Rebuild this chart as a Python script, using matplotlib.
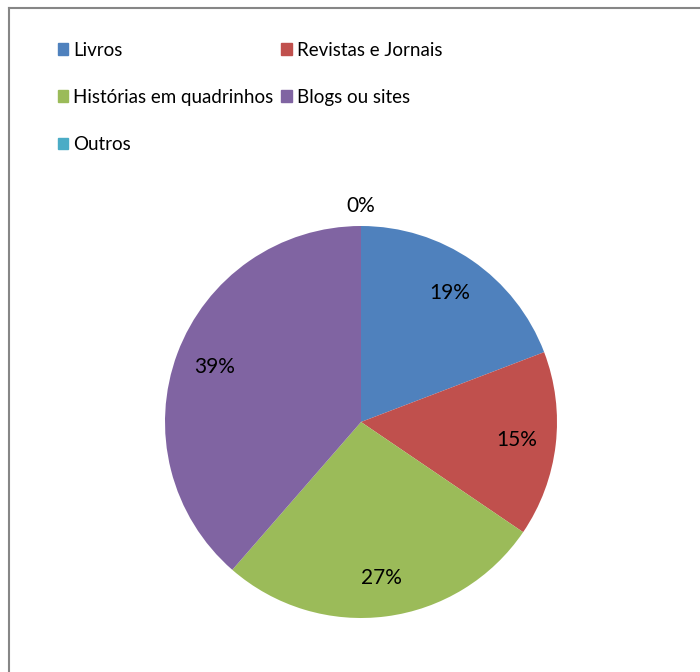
"""Pie chart of reading sources."""

import matplotlib.pyplot as plt
from matplotlib import patches
from matplotlib.lines import Line2D

plt.rcParams['font.family'] = ['Lato', 'DejaVu Sans']

labels = ['Livros', 'Revistas e Jornais', 'Histórias em quadrinhos',
          'Blogs ou sites', 'Outros']
values = [19.2, 15.3, 26.9, 38.6, 0]
colors = ['#4F81BD', '#C0504D', '#9BBB59', '#8064A2', '#4BACC6']

W, H = 700, 672
fig = plt.figure(figsize=(W / 100, H / 100), dpi=100)

# chart frame (only top and left edges visible)
frame_col = '#868686'
fig.add_artist(Line2D([9 / W, 9 / W], [0, 1 - 8 / H], transform=fig.transFigure,
                      color=frame_col, lw=1.5))
fig.add_artist(Line2D([9 / W, 1], [1 - 8 / H, 1 - 8 / H], transform=fig.transFigure,
                      color=frame_col, lw=1.5))

cx, cy, r = 361, 422, 196
ax = fig.add_axes([(cx - r) / W, (H - cy - r) / H, 2 * r / W, 2 * r / H])

wedges, texts, autotexts = ax.pie(values, colors=colors, startangle=90,
                                  counterclock=False, autopct='%1.0f%%',
                                  pctdistance=0.80,
                                  textprops={'fontsize': 15, 'color': 'black'})
for v, t in zip(values, autotexts):
    t.set_clip_on(False)
    if v == 0:
        x, y = t.get_position()
        t.set_position((x * 1.10 / 0.80, y * 1.10 / 0.80))
ax.set_xlim(-1, 1)
ax.set_ylim(-1, 1)
ax.set_aspect('equal')
ax.axis('off')

# legend filled row by row
order = [0, 2, 4, 1, 3]
handles = [patches.Patch(color=colors[i]) for i in order]
fig.legend(handles, [labels[i] for i in order], ncol=2, loc='upper left',
           bbox_to_anchor=(50 / W, 1 - 34 / H), frameon=False, fontsize=13.5,
           handlelength=0.58, handleheight=0.58, handletextpad=0.27,
           columnspacing=0.4, labelspacing=1.62, borderaxespad=0)

fig.savefig('out.png', dpi=100)
